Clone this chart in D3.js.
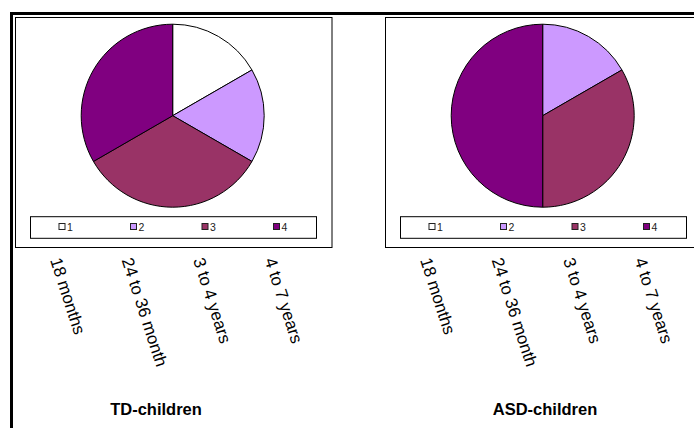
<!DOCTYPE html>
<html>
<head>
<meta charset="utf-8">
<script src="https://cdn.jsdelivr.net/npm/d3@7"></script>
<style>
  html, body { margin: 0; padding: 0; background: #fff; }
  svg { display: block; font-family: "Liberation Sans", Arial, sans-serif; }
</style>
</head>
<body>
<svg id="chart" width="694" height="428"></svg>
<script>
// Age groups (legend keys 1-4 and the labels listed under each panel)
const legendKeys = ["1", "2", "3", "4"];
const ageGroups = ["18 months", "24 to 36 month", "3 to 4 years", "4 to 7 years"];
const sliceColors = ["#FFFFFF", "#CC99FF", "#993366", "#800080"];

// Number of children per age group
const tdValues = [1, 1, 2, 2];
const asdValues = [0, 1, 2, 3];

const panels = [
  { title: "TD-children", values: tdValues, left: 15.5, right: 332, titleX: 156 },
  { title: "ASD-children", values: asdValues, left: 385.5, right: 720, titleX: 545 }
];

const svg = d3.select("#chart");

// Outer frame: heavy rule along the top and the left side
svg.append("line")
  .attr("x1", 10).attr("x2", 694).attr("y1", 13.5).attr("y2", 13.5)
  .attr("stroke", "#000").attr("stroke-width", 3);
svg.append("line")
  .attr("x1", 11.5).attr("x2", 11.5).attr("y1", 12).attr("y2", 428)
  .attr("stroke", "#000").attr("stroke-width", 3);

const pie = d3.pie().sort(null).value(d => d);
const radius = 91.5;
const arc = d3.arc().innerRadius(0).outerRadius(radius);

panels.forEach(p => {
  const g = svg.append("g");
  const top = 17.5, bottom = 247.5;

  // Plot area box
  g.append("rect")
    .attr("x", p.left).attr("y", top)
    .attr("width", p.right - p.left).attr("height", bottom - top)
    .attr("fill", "#fff").attr("stroke", "#000").attr("stroke-width", 1);

  // Pie
  const cx = p.left + 157.2, cy = 115.7;
  g.append("g")
    .attr("transform", `translate(${cx},${cy})`)
    .selectAll("path")
    .data(pie(p.values).filter(d => d.data > 0))
    .join("path")
    .attr("d", arc)
    .attr("fill", d => sliceColors[d.index])
    .attr("stroke", "#000")
    .attr("stroke-width", 1)
    .attr("stroke-linejoin", "round");

  // Legend box
  const lgLeft = p.left + 15, lgWidth = 286, lgTop = 216.7, lgHeight = 21.6;
  g.append("rect")
    .attr("x", lgLeft).attr("y", lgTop)
    .attr("width", lgWidth).attr("height", lgHeight)
    .attr("fill", "#fff").attr("stroke", "#000").attr("stroke-width", 1);

  const slot = d3.scaleBand().domain(legendKeys).range([lgLeft, lgLeft + lgWidth]);
  const items = g.selectAll("g.item")
    .data(legendKeys)
    .join("g")
    .attr("class", "item")
    .attr("transform", d => `translate(${slot(d) + 28},0)`);
  items.append("rect")
    .attr("x", 0.5).attr("y", 223.5)
    .attr("width", 6).attr("height", 6)
    .attr("fill", (d, i) => sliceColors[i])
    .attr("stroke", "#222").attr("stroke-width", 1);
  items.append("text")
    .attr("x", 8.5).attr("y", 230.5)
    .attr("font-size", 10.5)
    .attr("fill", "#222")
    .text(d => d);

  // Age-group labels, slanted
  const labelX = d3.scaleBand().domain(ageGroups).range([lgLeft, lgLeft + lgWidth]);
  g.selectAll("text.age")
    .data(ageGroups)
    .join("text")
    .attr("class", "age")
    .attr("font-size", 17)
    .attr("fill", "#000")
    .attr("transform", d => `translate(${labelX(d) + 19.5},${260}) rotate(72)`)
    .text(d => d);

  // Panel title
  g.append("text")
    .attr("x", p.titleX)
    .attr("y", 415)
    .attr("text-anchor", "middle")
    .attr("font-size", 16.5)
    .attr("font-weight", "bold")
    .attr("fill", "#000")
    .text(p.title);
});
</script>
</body>
</html>
